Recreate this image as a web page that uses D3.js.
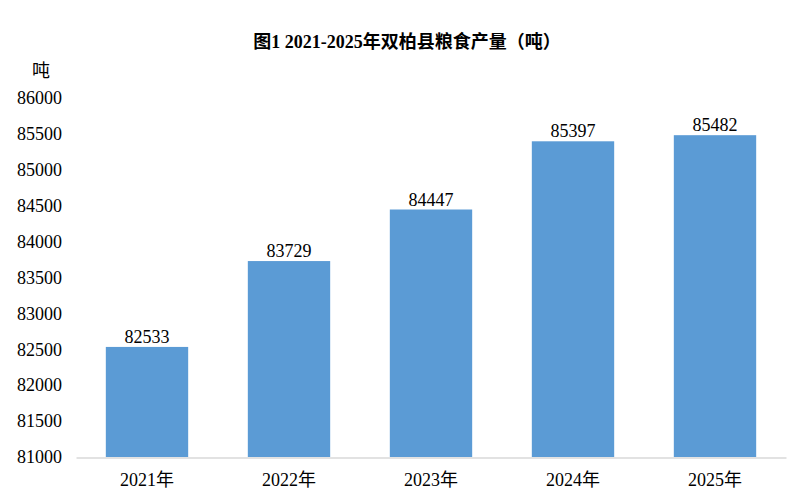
<!DOCTYPE html>
<html>
<head>
<meta charset="utf-8">
<script src="https://cdn.jsdelivr.net/npm/d3@7"></script>
<style>
	body{ margin:0; background:#fff; }
	svg text{ font-family:"Liberation Serif","DejaVu Serif","Noto Sans CJK SC",serif; fill:#000; }
</style>
</head>
<body>
<svg id="chart" width="790" height="500"></svg>
<script>
// data
var years = ["2021年", "2022年", "2023年", "2024年", "2025年"];
var output = [82533, 83729, 84447, 85397, 85482];
var yTicks = [81000, 81500, 82000, 82500, 83000, 83500, 84000, 84500, 85000, 85500, 86000];

var svg = d3.select("#chart");
// note: "top" is taken by window.top, so plot edges get their own names
var plotLeft = 76, plotRight = 786, plotTop = 98, plotBottom = 457;

var x = d3.scaleBand().domain(years).range([plotLeft, plotRight]).paddingInner(0.42).paddingOuter(0.21);
var y = d3.scaleLinear().domain([81000, 86000]).range([plotBottom, plotTop]);

svg.append("rect").attr("width", 790).attr("height", 500).attr("fill", "#fff");

// title
svg.append("text").attr("x", 407).attr("y", 48).attr("text-anchor", "middle")
	.style("font-size", "18px").style("font-weight", "bold")
	.text("图1 2021-2025年双柏县粮食产量（吨）");

// unit
svg.append("text").attr("x", 41).attr("y", 77).attr("text-anchor", "middle")
	.style("font-size", "18px").text("吨");

// y axis labels, no line
var yAxis = d3.axisLeft(y).tickValues(yTicks).tickFormat(d3.format("d")).tickSize(0).tickPadding(0);
var gy = svg.append("g").attr("transform", "translate(62,0)").call(yAxis);
gy.select(".domain").remove();
gy.selectAll("text").style("font-size", "18px").attr("font-family", null);

// bars
svg.append("g").selectAll("rect").data(output).enter().append("rect")
	.attr("x", function(d, i){ return x(years[i]); })
	.attr("y", function(d){ return y(d); })
	.attr("width", x.bandwidth())
	.attr("height", function(d){ return plotBottom - y(d); })
	.attr("fill", "#5B9BD5");

// value labels
svg.append("g").selectAll("text").data(output).enter().append("text")
	.attr("x", function(d, i){ return x(years[i]) + x.bandwidth() / 2; })
	.attr("y", function(d){ return y(d) - 4; })
	.attr("text-anchor", "middle")
	.style("font-size", "18px")
	.text(function(d){ return d; });

// x axis
var xAxis = d3.axisBottom(x).tickSize(0).tickPadding(16);
var gx = svg.append("g").attr("transform", "translate(0," + (plotBottom + 0.5) + ")").call(xAxis);
gx.select(".domain").attr("stroke", "#d9d9d9").attr("stroke-width", 1.5);
gx.selectAll("text").style("font-size", "18px").attr("font-family", null);
</script>
</body>
</html>
